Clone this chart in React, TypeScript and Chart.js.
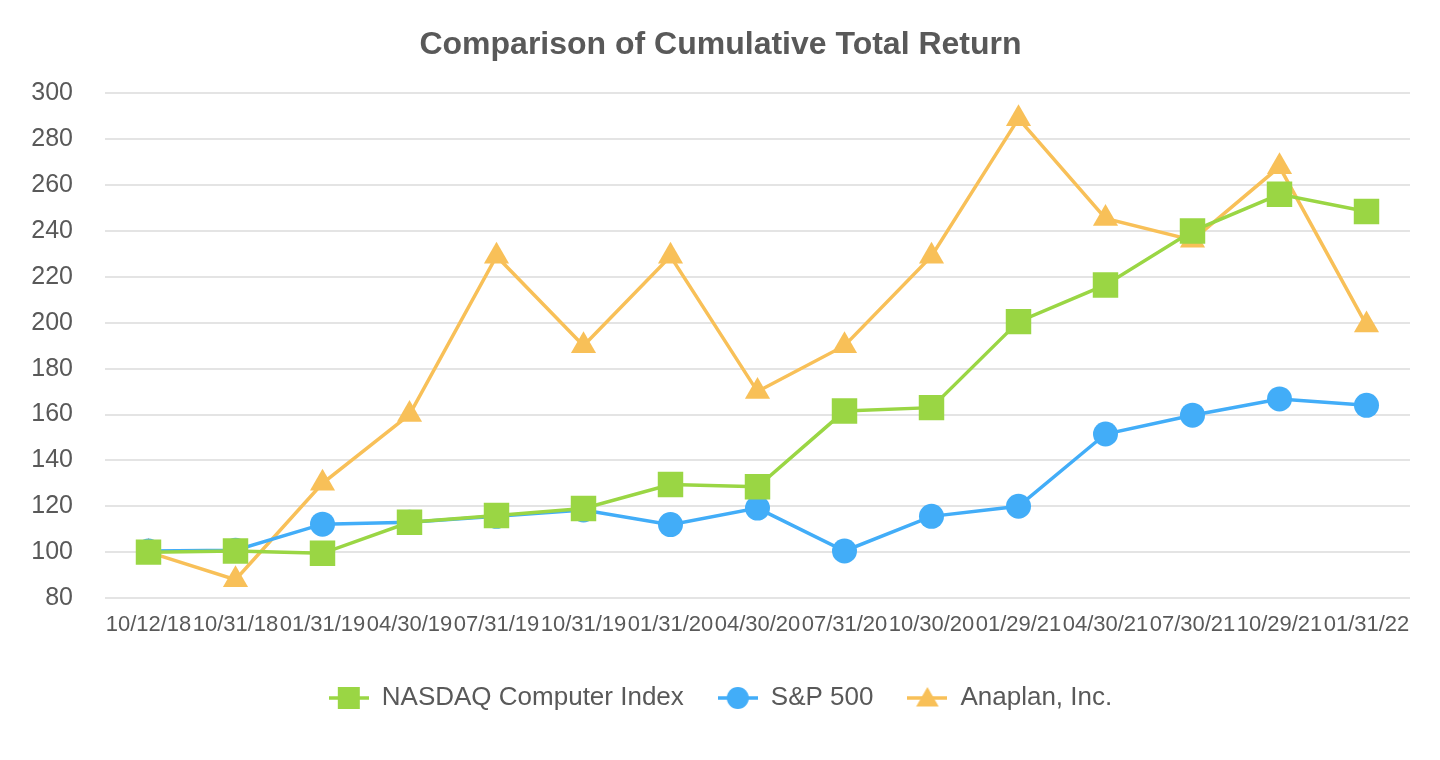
import React, { useEffect, useRef } from "react";
import { Chart, registerables } from "chart.js";

Chart.register(...registerables);

const labels = [
  "10/12/18", "10/31/18", "01/31/19", "04/30/19", "07/31/19", "10/31/19", "01/31/20",
  "04/30/20", "07/31/20", "10/30/20", "01/29/21", "04/30/21", "07/30/21", "10/29/21", "01/31/22",
];
const nasdaq = [100, 100.5, 99.5, 113, 116, 119, 129.5, 128.5, 161.5, 163, 200.5, 216.5, 240, 256, 248.5];
const sp500 = [100.5, 100.8, 112.2, 113, 115.6, 118.4, 112, 119.2, 100.5, 115.6, 120, 151.5, 159.7, 166.8, 164];
const anaplan = [100, 88, 130, 160, 229, 190, 229, 170, 190, 229, 289, 245.5, 236, 268, 199];

const yMin = 80;
const yMax = 300;
const yStep = 20;

const GREEN = "#9ad644";
const BLUE = "#42adf8";
const ORANGE = "#f8c058";
const TEXT = "#595959";
const FONT = "'Liberation Sans', Arial, Helvetica, sans-serif";

function legendIcon(color: string, shape: string): HTMLCanvasElement {
  const c = document.createElement("canvas");
  c.width = 40;
  c.height = 26;
  const ctx = c.getContext("2d")!;
  ctx.strokeStyle = color;
  ctx.lineWidth = 3.5;
  ctx.beginPath();
  ctx.moveTo(0, 13);
  ctx.lineTo(40, 13);
  ctx.stroke();
  ctx.fillStyle = color;
  ctx.beginPath();
  if (shape === "rect") {
    ctx.rect(9, 2, 22, 22);
  } else if (shape === "circle") {
    ctx.arc(20, 13, 11, 0, Math.PI * 2);
  } else {
    const r = 13;
    const cy = 15;
    ctx.moveTo(20, cy - r);
    ctx.lineTo(20 + r * Math.sin((2 * Math.PI) / 3), cy - r * Math.cos((2 * Math.PI) / 3));
    ctx.lineTo(20 + r * Math.sin((4 * Math.PI) / 3), cy - r * Math.cos((4 * Math.PI) / 3));
    ctx.closePath();
  }
  ctx.fill();
  return c;
}

export default function App() {
  const ref = useRef<HTMLCanvasElement | null>(null);

  useEffect(() => {
    if (!ref.current) return;
    const icons = [legendIcon(GREEN, "rect"), legendIcon(BLUE, "circle"), legendIcon(ORANGE, "triangle")];
    const chart = new Chart(ref.current, {
      type: "line",
      data: {
        labels,
        datasets: [
          {
            label: "NASDAQ Computer Index",
            data: nasdaq,
            borderColor: GREEN,
            backgroundColor: GREEN,
            borderWidth: 3.5,
            pointStyle: "rect",
            pointRadius: 18,
            pointBorderWidth: 0,
            pointBackgroundColor: GREEN,
            tension: 0,
          },
          {
            label: "S&P 500",
            data: sp500,
            borderColor: BLUE,
            backgroundColor: BLUE,
            borderWidth: 3.5,
            pointStyle: "circle",
            pointRadius: 12.5,
            pointBorderWidth: 0,
            pointBackgroundColor: BLUE,
            tension: 0,
          },
          {
            label: "Anaplan, Inc.",
            data: anaplan,
            borderColor: ORANGE,
            backgroundColor: ORANGE,
            borderWidth: 3.5,
            pointStyle: "triangle",
            pointRadius: 14.5,
            pointBorderWidth: 0,
            pointBackgroundColor: ORANGE,
            tension: 0,
          },
        ],
      },
      options: {
        responsive: false,
        animation: false,
        devicePixelRatio: 1,
        layout: { padding: { left: 31, right: 30, top: 0, bottom: 39 } },
        plugins: {
          title: {
            display: true,
            text: "Comparison of Cumulative Total Return",
            color: TEXT,
            font: { family: FONT, size: 32, weight: "bold" },
            padding: { top: 26, bottom: 29 },
          },
          legend: {
            position: "bottom",
            labels: {
              color: TEXT,
              font: { family: FONT, size: 26 },
              usePointStyle: true,
              pointStyleWidth: 40,
              padding: 34,
              generateLabels: (ch: any) => {
                const items = Chart.defaults.plugins.legend.labels.generateLabels(ch);
                items.forEach((it: any, i: number) => {
                  it.pointStyle = icons[i];
                });
                return items;
              },
            },
          },
          tooltip: { enabled: false },
        },
        scales: {
          x: {
            grid: { display: false, drawTicks: false },
            border: { display: false },
            offset: true,
            ticks: {
              color: TEXT,
              font: { family: FONT, size: 22 },
              padding: 14,
              maxRotation: 0,
              autoSkip: false,
            },
            afterFit: (scale: any) => {
              scale.height = 53;
            },
          },
          y: {
            min: yMin,
            max: yMax,
            grid: { color: "#e4e4e4", lineWidth: 2, drawTicks: false },
            border: { display: false },
            ticks: {
              stepSize: yStep,
              color: TEXT,
              font: { family: FONT, size: 25 },
              padding: 32,
            },
            afterFit: (scale: any) => {
              scale.width = 74;
            },
          },
        },
      },
    });
    return () => chart.destroy();
  }, []);

  return (
    <div style={{ position: "absolute", left: 0, top: 0, width: 1440, height: 760, background: "#fff" }}>
      <canvas ref={ref} width={1440} height={760} />
    </div>
  );
}
